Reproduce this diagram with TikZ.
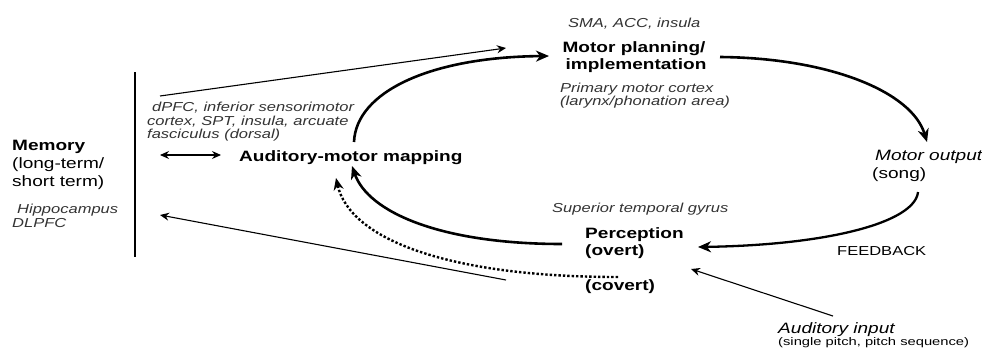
\documentclass[tikz,border=0pt]{standalone}
\usepackage{fontspec}
\setmainfont{Liberation Sans}[FakeStretch=1.27]
\newfontfamily\widefont{Liberation Sans}[FakeStretch=1.34]
\usetikzlibrary{arrows.meta}
\begin{document}
\begin{tikzpicture}[x=1pt,y=-1pt,
  lbl/.style={inner sep=0pt, anchor=base west},
  bld/.style={lbl, font=\fontsize{15}{18}\selectfont\bfseries},
  itl/.style={lbl, font=\fontsize{13}{15}\selectfont\itshape, text=black!80},
  itb/.style={lbl, font=\fontsize{15}{18}\selectfont\itshape},
  reg/.style={lbl, font=\fontsize{15}{18}\selectfont},
  smallreg/.style={lbl, font=\fontsize{13}{15}\selectfont},
  tiny/.style={lbl, font=\widefont\fontsize{11}{13}\selectfont},
  thinarr/.style={line width=1.1pt, -{Stealth[length=9pt,width=8pt,inset=3pt]}},
  dblarr/.style={line width=1.1pt, {Stealth[length=9pt,width=8pt,inset=3pt]}-{Stealth[length=9pt,width=8pt,inset=3pt]}},
  thickarr/.style={line width=2.6pt, -{Stealth[length=13pt,width=11pt,inset=4pt]}},
  dotarr/.style={line width=2.4pt, dotted, -{Stealth[length=12pt,width=10pt,inset=4pt]}},
]
\useasboundingbox (0,0) rectangle (982,349);

% texts
\node[bld] (mem1) at (12,150) {Memory};
\node[reg] (mem2) at (12,168) {(long-term/};
\node[reg] (mem3) at (12,186) {short term)};
\node[itl] (hip) at (17,213) {Hippocampus};
\node[itl] (dlp) at (12,227) {DLPFC};

\node[itl] (dp1) at (152,111) {dPFC, inferior sensorimotor};
\node[itl] (dp2) at (147,125) {cortex, SPT, insula, arcuate};
\node[itl] (dp3) at (147,138) {fasciculus (dorsal)};
\node[bld] (amm) at (239,161) {Auditory-motor mapping};

\node[itl] (sma) at (568,27) {SMA, ACC, insula};
\node[bld, anchor=base] (mp1) at (634,52) {Motor planning/};
\node[bld, anchor=base] (mp2) at (636,69) {implementation};
\node[itl] (pm1) at (560,92) {Primary motor cortex};
\node[itl] (pm2) at (560,105) {(larynx/phonation area)};

\node[itb] (mo1) at (875,160) {Motor output};
\node[reg] (mo2) at (872,178) {(song)};
\node[smallreg] (fb) at (837,255) {FEEDBACK};

\node[itl] (stg) at (552,212) {Superior temporal gyrus};
\node[bld] (per1) at (585,238) {Perception};
\node[bld] (per2) at (585,255) {(overt)};
\node[bld] (cov) at (585,290) {(covert)};

\node[itb] (ai1) at (778,333) {Auditory input};
\node[tiny] (ai2) at (778,345) {(single pitch, pitch sequence)};

% vertical separator
\coordinate (vt) at (135,72);
\coordinate (vb) at (135,257);
\draw[line width=1.5pt] (vt) -- (vb);

% connector end points
\coordinate (a1s) at (160,96);   \coordinate (a1e) at (506,48);
\coordinate (d1) at (160,155);   \coordinate (d2) at (221,155);
\coordinate (c1s) at (354,142);  \coordinate (c1e) at (549,56);
\coordinate (c2s) at (720,57);   \coordinate (c2e) at (927,142);
\coordinate (c3s) at (918,192);  \coordinate (c3e) at (698,247);
\coordinate (c4s) at (562,244);  \coordinate (c4e) at (352,166);
\coordinate (c5s) at (618,277);  \coordinate (c5e) at (336,178);
\coordinate (a2s) at (506,280);  \coordinate (a2e) at (160,215);
\coordinate (a3s) at (833,316);  \coordinate (a3e) at (691,269);

\draw[thinarr] (a1s) -- (a1e);
\draw[dblarr] (d1) -- (d2);
\draw[thickarr] (c1s) .. controls (356,92) and (430,57) .. (c1e);
\draw[thickarr] (c2s) .. controls (830,58) and (912,92) .. (c2e);
\draw[thickarr, line width=2.3pt] (c3s) .. controls (915,222) and (830,245) .. (c3e);
\draw[thickarr] (c4s) .. controls (440,244) and (368,212) .. (c4e);
\draw[dotarr] (c5s) .. controls (450,277) and (350,240) .. (c5e);
\draw[thinarr] (a2s) -- (a2e);
\draw[thinarr] (a3s) -- (a3e);
\end{tikzpicture}
\end{document}
